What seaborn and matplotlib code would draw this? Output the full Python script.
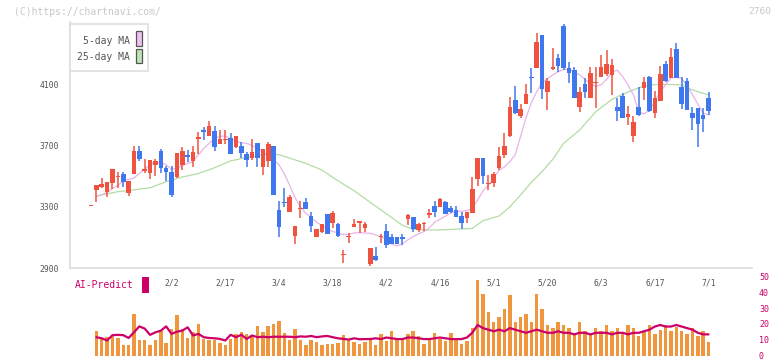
import numpy as np
import pandas as pd
import matplotlib
matplotlib.use("Agg")
import matplotlib.pyplot as plt
from matplotlib.patches import Rectangle
import seaborn as sns

sns.set_style("white")
plt.rcParams['font.family'] = ['DejaVu Sans Mono', 'DejaVu Sans']

# ---------------- data ----------------
opens = [3304, 3410, 3432, 3399, 3458, 3494, 3514, 3393, 3516, 3664, 3534, 3523, 3573, 3664, 3556, 3530,
         3497, 3573, 3638, 3599, 3745, 3801, 3764, 3794, 3710, 3736, 3751, 3692, 3697, 3645, 3621, 3716,
         3562, 3601, 3697, 3280, 3334, 3269, 3111, 3287, 3332, 3241, 3106, 3139, 3254, 3193, 3191, 2987,
         3103, 3171, 3197, 3165, 2926, 2980, 3103, 3145, 3102, 3102, 3102, 3223, 3236, 3150, 3186, 3249,
         3306, 3302, 3334, 3291, 3280, 3241, 3230, 3258, 3480, 3616, 3447, 3458, 3553, 3640, 3760, 3996,
         3894, 3972, 4146, 4207, 4420, 4051, 4198, 4272, 4479, 4207, 4192, 3953, 4101, 4007, 4107, 4148,
         4164, 4159, 3953, 4023, 3888, 3764, 3949, 4072, 4148, 3914, 3990, 4231, 4138, 4329, 4083, 4122,
         3910, 3942, 3899, 4007]
highs = [3304, 3443, 3486, 3464, 3547, 3530, 3525, 3469, 3697, 3699, 3612, 3603, 3612, 3677, 3566, 3569,
         3651, 3692, 3671, 3697, 3786, 3823, 3860, 3829, 3801, 3801, 3779, 3762, 3725, 3656, 3740, 3716,
         3677, 3721, 3697, 3341, 3421, 3377, 3176, 3338, 3356, 3269, 3156, 3189, 3254, 3273, 3197, 3019,
         3128, 3221, 3208, 3202, 3034, 3041, 3121, 3189, 3123, 3102, 3121, 3254, 3236, 3193, 3204, 3286,
         3338, 3360, 3338, 3308, 3308, 3269, 3269, 3497, 3616, 3616, 3508, 3525, 3692, 3780, 4015, 4086,
         3970, 4101, 4206, 4435, 4420, 4138, 4337, 4296, 4492, 4246, 4214, 4083, 4142, 4209, 4210, 4290,
         4322, 4261, 4012, 4040, 3957, 3892, 4079, 4144, 4153, 4057, 4218, 4251, 4333, 4366, 4149, 4138,
         3953, 3942, 3942, 4046]
lows = [3304, 3334, 3421, 3367, 3417, 3425, 3432, 3371, 3516, 3601, 3519, 3484, 3503, 3519, 3469, 3367,
        3486, 3540, 3590, 3558, 3645, 3736, 3764, 3666, 3710, 3708, 3647, 3682, 3616, 3562, 3606, 3562,
        3508, 3562, 3378, 3106, 3302, 3269, 3056, 3226, 3286, 3139, 3102, 3132, 3126, 3165, 3106, 2937,
        3067, 3167, 3132, 3139, 2915, 2950, 3063, 3034, 3056, 3056, 3052, 3182, 3139, 3139, 3143, 3230,
        3236, 3302, 3254, 3262, 3236, 3154, 3193, 3258, 3438, 3447, 3410, 3432, 3540, 3616, 3756, 3903,
        3882, 3972, 4043, 4207, 4003, 3931, 4192, 4181, 4192, 4109, 4012, 3920, 4007, 4007, 3947, 4148,
        4153, 4029, 3860, 3877, 3834, 3725, 3894, 3996, 3920, 3881, 3990, 4116, 4138, 4138, 3936, 3931,
        3801, 3692, 3790, 3899]
closes = [3304, 3443, 3449, 3464, 3547, 3500, 3464, 3469, 3664, 3614, 3547, 3603, 3599, 3551, 3530, 3380,
          3651, 3664, 3627, 3658, 3750, 3790, 3829, 3692, 3742, 3742, 3647, 3762, 3649, 3608, 3656, 3621,
          3677, 3710, 3378, 3171, 3323, 3362, 3176, 3293, 3286, 3176, 3156, 3189, 3126, 3263, 3111, 2993,
          3109, 3189, 3203, 3186, 3034, 2954, 3109, 3052, 3056, 3056, 3089, 3245, 3154, 3186, 3192, 3255,
          3269, 3349, 3254, 3269, 3236, 3197, 3269, 3417, 3616, 3504, 3458, 3512, 3632, 3699, 3950, 3911,
          3937, 4036, 4137, 4377, 4068, 4122, 4211, 4218, 4203, 4170, 4012, 4051, 4046, 4175, 4112, 4214,
          4231, 4224, 3927, 3881, 3905, 3851, 3899, 4112, 3925, 4007, 4166, 4122, 4277, 4142, 3970, 3931,
          3881, 3840, 3873, 3925]

ma5 = [np.nan, 3367, 3380, 3395, 3420, 3440, 3470, 3480, 3488, 3519, 3545, 3575, 3590, 3588, 3575, 3545,
       3552, 3570, 3584, 3595, 3640, 3680, 3714, 3745, 3760, 3762, 3745, 3727, 3718, 3714, 3700, 3683,
       3660, 3630, 3605, 3575, 3515, 3440, 3360, 3300, 3258, 3230, 3200, 3180, 3155, 3140, 3130, 3120,
       3122, 3130, 3132, 3130, 3128, 3118, 3105, 3092, 3060, 3045, 3060, 3085, 3106, 3125, 3139, 3165,
       3200, 3220, 3240, 3260, 3269, 3272, 3275, 3290, 3345, 3405, 3440, 3490, 3540, 3560, 3595, 3640,
       3760, 3880, 3980, 4050, 4110, 4135, 4160, 4180, 4195, 4195, 4180, 4160, 4130, 4100, 4085, 4095,
       4130, 4180, 4190, 4150, 4095, 4030, 3920, 3905, 3930, 3990, 4050, 4095, 4140, 4145, 4138, 4090,
       4030, 3970, 3910, 3900]
ma25 = [np.nan, 3371, 3378, 3385, 3392, 3399, 3403, 3407, 3411, 3416, 3420, 3425, 3438, 3451, 3464, 3474,
        3485, 3495, 3502, 3510, 3517, 3530, 3542, 3555, 3570, 3585, 3600, 3607, 3615, 3622, 3628, 3635,
        3641, 3647, 3645, 3640, 3629, 3618, 3606, 3595, 3584, 3569, 3555, 3540, 3517, 3493, 3470, 3448,
        3427, 3405, 3380, 3355, 3330, 3305, 3280, 3255, 3230, 3205, 3180, 3167, 3155, 3152, 3150, 3150,
        3150, 3150, 3152, 3153, 3155, 3157, 3158, 3160, 3185, 3210, 3220, 3231, 3241, 3270, 3300, 3339,
        3378, 3419, 3460, 3495, 3530, 3570, 3610, 3662, 3714, 3743, 3772, 3801, 3841, 3880, 3920, 3947,
        3973, 4000, 4017, 4033, 4048, 4062, 4075, 4088, 4092, 4096, 4099, 4098, 4097, 4096, 4094, 4078,
        4062, 4051, 4040, 4029]

ai_bars = [np.nan, 16.4, 11.1, 12.2, 13.9, 11.7, 6.9, 7.3, 26.8, 10.7, 10.1, 6.9, 10.1, 16.4, 8.6, 17.5,
           26.2, 17.5, 11.7, 15.7, 20.6, 11.1, 10.1, 10.1, 8.6, 6.9, 11.1, 14.3, 15.7, 14.3, 13.3, 19.2,
           15.7, 19.2, 20.6, 22.7, 14.9, 10.7, 17.5, 10.7, 6.9, 10.1, 9.4, 7.3, 7.9, 7.9, 8.6, 13.7,
           10.1, 9.0, 7.9, 9, 12, 7, 14, 10, 16, 12, 11, 14, 16, 13, 8, 12,
           15, 11, 10, 15, 12, 8, 10, 18, 49, 40, 28, 22, 25, 30, 39, 22,
           25, 27, 22, 40, 30, 20, 18, 22, 20, 18, 15, 22, 16, 14, 18, 16,
           20, 16, 18, 14, 20, 18, 13, 16, 20, 14, 17, 20, 16, 19, 16, 14,
           18, 13, 16, 9]
ai_line = [np.nan, 12.2, 11.5, 10.1, 13.5, 13.7, 13.5, 11.7, 15.3, 19.1, 17.7, 13.7, 15.3, 16.4, 19.1, 14.3,
           15.7, 16.4, 18.5, 13.3, 14.3, 12.2, 11.7, 11.5, 11.1, 10.1, 13.7, 12.2, 13.7, 11.1, 13.3, 12.2,
           12.5, 12.2, 12.5, 12.5, 12.5, 12.5, 12.2, 12.7, 12.5, 13.0, 12.2, 12.7, 13.0, 12.2, 11.5, 11.1,
           10.7, 11.5, 10.9, 11, 11, 11.5, 11, 12, 11.5, 11, 11, 12, 12, 11.5, 11, 11,
           11.5, 12, 11.5, 11, 11, 11, 12, 15, 20, 18, 17, 16, 17, 16, 18, 17,
           16, 15, 16, 17, 16, 15, 15, 16, 15, 15, 14, 15, 15, 14, 15, 15,
           15, 14, 15, 15, 14, 15, 15, 16, 17, 19, 20, 19, 19, 20, 19, 18,
           17, 15, 14, 14]

date_labels = ['2/2', '2/17', '3/4', '3/18', '4/2', '4/16', '5/1', '5/20', '6/3', '6/17', '7/1']
date_pos = [15, 25, 35, 45, 55, 65, 75, 85, 95, 105, 115]
y_ticks = [2900, 3300, 3700, 4100]
ai_ticks = [0, 10, 20, 30, 40, 50]

# ---------------- style ----------------
UP = '#ef5340'
DOWN = '#3f78ee'
C_MA5 = '#e8b4ea'
C_MA25 = '#b4dca4'
C_BAR = '#f0963c'
C_AI = '#cc0066'
C_GRID = '#dedede'
C_TXT = '#555555'

W, H = 772, 361
fig = plt.figure(figsize=(W / 100, H / 100), dpi=100)
fig.patch.set_facecolor('white')

def fx(px):
    return px / W

def fy(py):
    return 1 - py / H

px_per_idx = 5.37
x0_px = 91.0
left_px, right_px = 70, 752
xlim = ((left_px - x0_px) / px_per_idx, (right_px - x0_px) / px_per_idx)

# main price axes
top_px, bot_px = 22, 268.3
units_per_px = 400 / 61.4
ylim = (2900, 2900 + (bot_px - top_px) * units_per_px)
ax = fig.add_axes([fx(left_px), fy(bot_px), fx(right_px - left_px), (bot_px - top_px) / H])
ax.set_xlim(*xlim)
ax.set_ylim(*ylim)

idx = np.arange(len(closes))
df = pd.DataFrame({'i': idx, 'o': opens, 'h': highs, 'l': lows, 'c': closes,
                   'ma5': ma5, 'ma25': ma25})
up = df['c'] >= df['o']
colors = np.where(up, UP, DOWN)

sns.lineplot(data=df, x='i', y='ma25', ax=ax, color=C_MA25, linewidth=0.9, zorder=2)
sns.lineplot(data=df, x='i', y='ma5', ax=ax, color=C_MA5, linewidth=0.9, zorder=2)

ax.vlines(df['i'], df['l'], df['h'], colors=colors, linewidth=1.1, zorder=3)
body_bot = np.minimum(df['o'], df['c'])
body_h = np.maximum(np.abs(df['c'] - df['o']), 9)
ax.bar(df['i'], body_h, bottom=body_bot, width=0.86, color=colors, linewidth=0, zorder=4)

for s in ['top', 'right']:
    ax.spines[s].set_visible(False)
for s in ['left', 'bottom']:
    ax.spines[s].set_color(C_GRID)
    ax.spines[s].set_linewidth(1.3)
ax.set_yticks(y_ticks)
ax.set_yticklabels([str(v) for v in y_ticks])
ax.tick_params(axis='y', direction='inout', length=6, width=1.2, color=C_GRID,
               labelcolor=C_TXT, labelsize=5.8, pad=5)
ax.set_xticks(date_pos)
ax.set_xticklabels(date_labels)
ax.tick_params(axis='x', which='major', length=0, labelcolor=C_TXT, labelsize=5.8, pad=7)
ax.set_xticks(np.linspace(xlim[0], xlim[1], 12), minor=True)
ax.tick_params(axis='x', which='minor', direction='inout', length=8, width=1.2, color=C_GRID)
ax.set_xlabel('')
ax.set_ylabel('')
ax.set_facecolor('none')

# AI-Predict panel
ai_top, ai_bot = 278.0, 356.3
ax2 = fig.add_axes([fx(left_px), fy(ai_bot), fx(right_px - left_px), (ai_bot - ai_top) / H])
ax2.set_xlim(*xlim)
ax2.set_ylim(0, 50)
dfa = pd.DataFrame({'i': idx, 'bar': ai_bars, 'line': ai_line})
ax2.bar(dfa['i'], dfa['bar'], width=0.64, color=C_BAR, linewidth=0, zorder=2)
sns.lineplot(data=dfa, x='i', y='line', ax=ax2, color=C_AI, linewidth=1.6, zorder=3)
for s in ax2.spines.values():
    s.set_visible(False)
ax2.set_xticks([])
ax2.yaxis.tick_right()
ax2.set_yticks(ai_ticks)
ax2.set_yticklabels([str(v) for v in ai_ticks])
ax2.tick_params(axis='y', length=0, labelcolor=C_AI, labelsize=6, pad=5)
for lbl in ax2.get_yticklabels():
    lbl.set_va('center')
ax2.set_xlabel('')
ax2.set_ylabel('')
ax2.set_facecolor('none')

# overlay for annotations (pixel coordinates)
ov = fig.add_axes([0, 0, 1, 1])
ov.set_xlim(0, W)
ov.set_ylim(H, 0)
ov.axis('off')
ov.text(14, 12, '(C)https://chartnavi.com/', color='#c8c8c8', fontsize=7, va='center', ha='left')
ov.text(771, 12, '2760', color='#c8c8c8', fontsize=6.8, va='center', ha='right')
ov.add_patch(Rectangle((70, 24), 78, 47, facecolor='white', edgecolor=C_GRID, linewidth=1.2))
ov.text(130, 40.5, '5-day MA', color=C_TXT, fontsize=7, va='center', ha='right')
ov.text(130, 56.8, '25-day MA', color=C_TXT, fontsize=7, va='center', ha='right')
ov.add_patch(Rectangle((136.3, 31.3), 6, 15, facecolor='#f0c0f0', edgecolor='#555555', linewidth=0.9))
ov.add_patch(Rectangle((136.3, 48.5), 6, 14.7, facecolor='#bfe3b4', edgecolor='#555555', linewidth=0.9))
ov.text(75, 285.5, 'AI-Predict', color=C_AI, fontsize=7, va='center', ha='left')
ov.add_patch(Rectangle((142, 277.3), 6.7, 15.4, facecolor=C_AI, edgecolor='none'))

fig.savefig('out.png', dpi=100, facecolor='white')
